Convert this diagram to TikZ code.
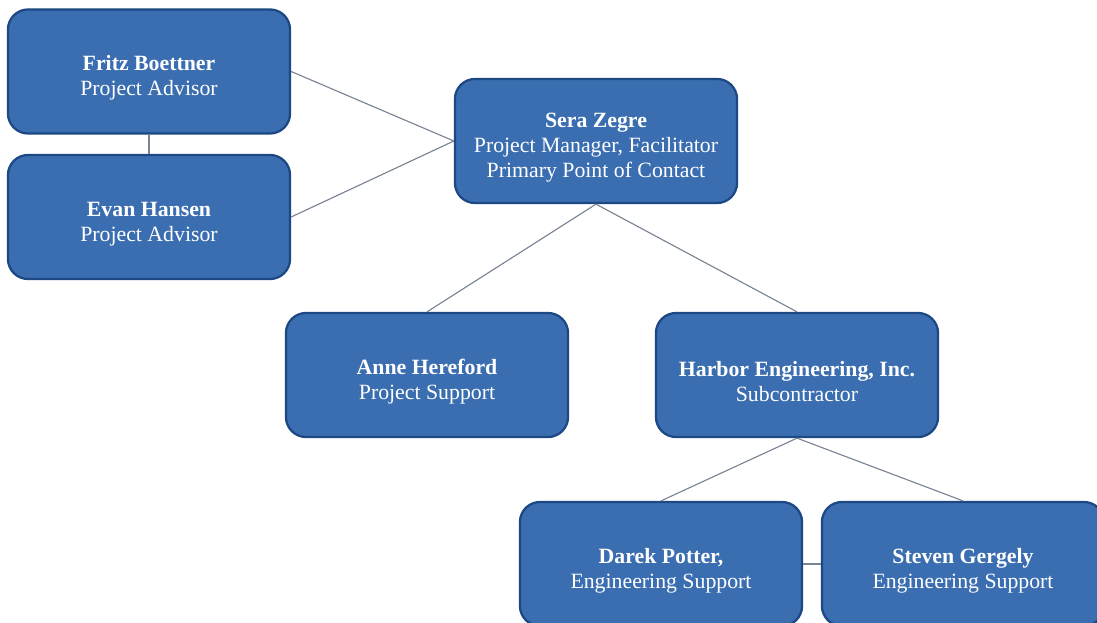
\documentclass[tikz,border=0pt]{standalone}
\usepackage{fontspec}
\setmainfont{Liberation Serif}
\usepackage{tikz}
\usetikzlibrary{positioning}

\definecolor{boxfill}{RGB}{58,110,176}
\definecolor{boxline}{RGB}{30,72,132}
\definecolor{linkgray}{RGB}{120,132,148}

% name in bold, role below; the strut drops the text a little in its box
\newcommand{\orgtext}[2]{\rule{0pt}{20pt}\textbf{#1}\\#2}

\tikzset{
    orgbox/.style={draw=boxline, line width=1.6pt, fill=boxfill, rounded corners=0.5cm,
                   minimum width=7.05cm, minimum height=3.1cm, align=center,
                   text=white, font=\fontsize{15.5}{17.7}\selectfont},
    link/.style={draw=linkgray, line width=0.8pt}
}

\begin{document}
\begin{tikzpicture}[x=0.025cm, y=-0.025cm]
                      \clip (0,0) rectangle (1097,623);
                      \fill[white] (0,0) rectangle (1097,623);

                      \node[orgbox] (fritz)  at (149,71.5) {\orgtext{Fritz Boettner}{Project Advisor}};
                      \node[orgbox] (evan)   at (149,217)  {\orgtext{Evan Hansen}{Project Advisor}};
                      \node[orgbox] (sera)   at (596,141)  {\orgtext{Sera Zegre}{Project Manager, Facilitator\\Primary Point of Contact}};
                      \node[orgbox] (anne)   at (427,375)  {\orgtext{Anne Hereford}{Project Support}};
                      \node[orgbox] (harbor) at (797,375)  {\orgtext{Harbor Engineering, Inc.}{Subcontractor}};
                      \node[orgbox] (darek)  at (661,564)  {\orgtext{Darek Potter,}{Engineering Support}};
                      \node[orgbox] (steven) at (963,564)  {\orgtext{Steven Gergely}{Engineering Support}};

                      \path (fritz.east)   edge[link] (sera.west)
                            (evan.east)    edge[link] (sera.west)
                            (fritz.south)  edge[link] (evan.north)
                            (sera.south)   edge[link] (anne.north)
                            (sera.south)   edge[link] (harbor.north)
                            (harbor.south) edge[link] (darek.north)
                            (harbor.south) edge[link] (steven.north)
                            (darek.east)   edge[link] (steven.west);
                  \end{tikzpicture}
\end{document}
